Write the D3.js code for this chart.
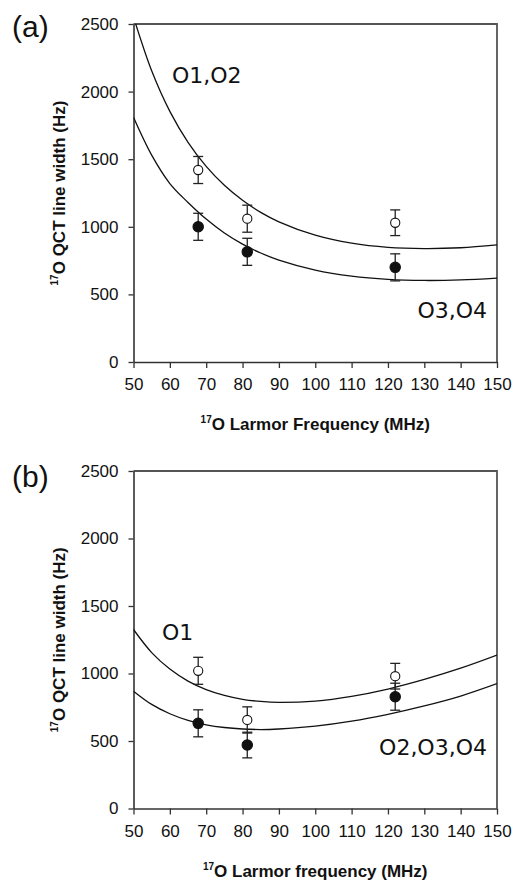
<!DOCTYPE html>
<html><head><meta charset="utf-8">
<script src="https://cdn.jsdelivr.net/npm/d3@7"></script>
<style>html,body{margin:0;padding:0;background:#fff;}svg{display:block;}</style>
</head><body>
<script>
// ---- data ----
const freqs = [67.8, 81.3, 122.0];
const xTicks = [50, 60, 70, 80, 90, 100, 110, 120, 130, 140, 150];
const yTicks = [0, 500, 1000, 1500, 2000, 2500];
const curveX = [50, 55, 60, 65, 70, 75, 80, 85, 90, 100, 110, 120, 130, 140, 150];

const aUpperCurve = [2552, 2154, 1854, 1625, 1447, 1307, 1196, 1107, 1037, 938, 879, 848, 839, 845, 866];
const aLowerCurve = [1810, 1530, 1320, 1180, 1057, 954, 872, 806, 754, 680, 635, 611, 603, 607, 621];
const aOpen = [1420, 1060, 1030];
const aOpenErr = [100, 100, 95];
const aFilled = [1000, 815, 700];
const aFilledErr = [100, 100, 100];

const bUpperCurve = [1326, 1155, 1033, 944, 881, 838, 809, 793, 786, 796, 831, 885, 956, 1039, 1136];
const bLowerCurve = [869, 771, 702, 653, 620, 600, 589, 585, 589, 610, 647, 698, 760, 833, 925];
const bOpen = [1020, 656, 980];
const bOpenErr = [100, 97, 95];
const bFilled = [631, 470, 828];
const bFilledErr = [100, 95, 100];

const panels = [
  {label: "(a)", top: 24, bottom: 362, labelY: 37,
   xTitle: "O Larmor Frequency (MHz)", xTitleY: 430,
   upper: aUpperCurve, lower: aLowerCurve,
   open: aOpen, openErr: aOpenErr, filled: aFilled, filledErr: aFilledErr,
   notes: [{t: "O1,O2", x: 172, y: 83, anchor: "start"}, {t: "O3,O4", x: 487, y: 318, anchor: "end"}]},
  {label: "(b)", top: 471, bottom: 808.5, labelY: 487,
   xTitle: "O Larmor frequency (MHz)", xTitleY: 877,
   upper: bUpperCurve, lower: bLowerCurve,
   open: bOpen, openErr: bOpenErr, filled: bFilled, filledErr: bFilledErr,
   notes: [{t: "O1", x: 162, y: 640, anchor: "start"}, {t: "O2,O3,O4", x: 487, y: 755, anchor: "end"}]}
];

const W = 513, H = 881;
const left = 133.5, right = 497;
const svg = d3.select("body").append("svg").attr("width", W).attr("height", H)
  .style("font-family", "'Liberation Sans', Arial, sans-serif");

const x = d3.scaleLinear().domain([50, 150]).range([left, right]);

panels.forEach((p, i) => {
  const y = d3.scaleLinear().domain([0, 2500]).range([p.bottom, p.top]);
  const g = svg.append("g");

  const cid = "clip" + i;
  svg.append("clipPath").attr("id", cid).append("rect")
    .attr("x", left).attr("y", p.top).attr("width", right - left).attr("height", p.bottom - p.top);

  // frame (top and right)
  g.append("path")
    .attr("d", `M${left},${p.top}H${right}V${p.bottom}`)
    .attr("fill", "none").attr("stroke", "#555").attr("stroke-width", 1.8);

  // axes
  const xa = g.append("g").attr("transform", `translate(0,${p.bottom})`)
    .call(d3.axisBottom(x).tickValues(xTicks).tickFormat(d3.format("d")).tickSize(6).tickPadding(10).tickSizeOuter(0));
  const ya = g.append("g").attr("transform", `translate(${left},0)`)
    .call(d3.axisLeft(y).tickValues(yTicks).tickFormat(d3.format("d")).tickSize(5).tickPadding(10).tickSizeOuter(0));
  [xa, ya].forEach(a => {
    a.attr("font-size", null).attr("font-family", null);
    a.select(".domain").attr("stroke", "#333").attr("stroke-width", 1.6);
    a.selectAll(".tick line").attr("stroke", "#333").attr("stroke-width", 1.3);
    a.selectAll(".tick text").attr("fill", "#111").style("font-size", "17px")
      .style("font-family", "'Liberation Sans', Arial, sans-serif");
  });

  // curves
  const line = d3.line().x(d => x(d[0])).y(d => y(d[1])).curve(d3.curveCatmullRom);
  [p.upper, p.lower].forEach(c => {
    g.append("path").attr("clip-path", `url(#${cid})`)
      .datum(curveX.map((cx, k) => [cx, c[k]]))
      .attr("d", line).attr("fill", "none").attr("stroke", "#111").attr("stroke-width", 1.3);
  });

  // error bars + markers
  const drawSeries = (vals, errs, filled) => {
    vals.forEach((v, k) => {
      const cx = x(freqs[k]);
      const y1 = y(v + errs[k]), y2 = y(v - errs[k]);
      g.append("line").attr("x1", cx).attr("x2", cx).attr("y1", y1).attr("y2", y2)
        .attr("stroke", "#222").attr("stroke-width", 1.3);
      [y1, y2].forEach(yy => g.append("line").attr("x1", cx - 5).attr("x2", cx + 5)
        .attr("y1", yy).attr("y2", yy).attr("stroke", "#222").attr("stroke-width", 1.3));
      g.append("circle").attr("cx", cx).attr("cy", y(v)).attr("r", filled ? 5.2 : 4.6)
        .attr("fill", filled ? "#111" : "#fff").attr("stroke", "#111").attr("stroke-width", 1.1);
    });
  };
  drawSeries(p.open, p.openErr, false);
  drawSeries(p.filled, p.filledErr, true);

  // panel label
  svg.append("text").attr("x", 12).attr("y", p.labelY).text(p.label)
    .style("font-size", "30px").attr("fill", "#111");

  // annotations
  p.notes.forEach(n => {
    svg.append("text").attr("x", n.x).attr("y", n.y).attr("text-anchor", n.anchor)
      .style("font-family", "'DejaVu Sans', sans-serif").style("font-size", "22px")
      .attr("fill", "#111").text(n.t);
  });

  // x title
  const xt = svg.append("text").attr("x", (left + right) / 2).attr("y", p.xTitleY)
    .attr("text-anchor", "middle").style("font-size", "17px").style("font-weight", "bold").attr("fill", "#111");
  xt.append("tspan").style("font-size", "10px").attr("dy", "-7").text("17");
  xt.append("tspan").attr("dy", "7").text(p.xTitle);

  // y title
  const yc = (p.top + p.bottom) / 2;
  const yt = svg.append("text").attr("transform", `translate(65,${yc}) rotate(-90)`)
    .attr("text-anchor", "middle").style("font-size", "17px").style("font-weight", "bold").attr("fill", "#111");
  yt.append("tspan").style("font-size", "10px").attr("dy", "-7").text("17");
  yt.append("tspan").attr("dy", "7").text("O QCT line width (Hz)");
});
</script>
</body></html>
